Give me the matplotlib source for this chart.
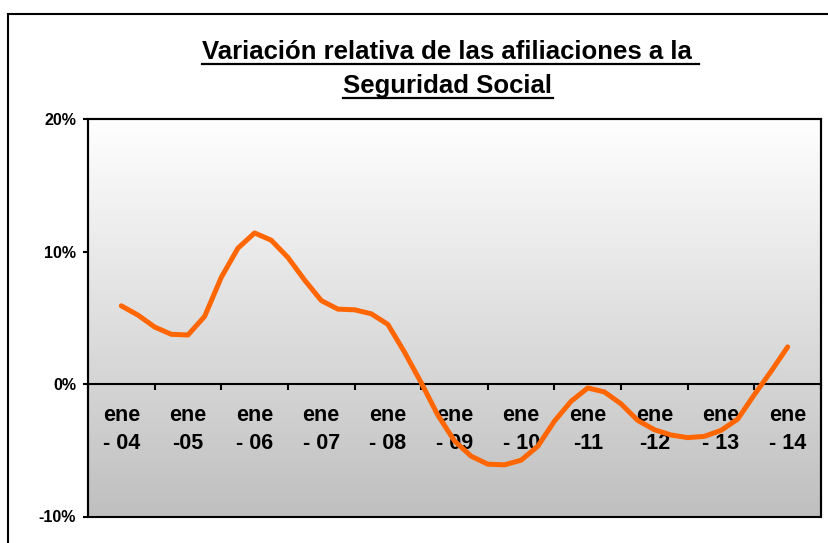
import numpy as np
import matplotlib
matplotlib.use('Agg')
import matplotlib.pyplot as plt
from matplotlib.lines import Line2D
from matplotlib.patches import Rectangle

plt.rcParams['font.family'] = ['Liberation Sans', 'DejaVu Sans']
plt.rcParams['font.weight'] = 'bold'

# etiquetas del eje x (enero de cada año)
etiquetas = ['ene\n- 04', 'ene\n-05', 'ene\n- 06', 'ene\n- 07', 'ene\n- 08', 'ene\n- 09',
             'ene\n- 10', 'ene\n-11', 'ene\n-12', 'ene\n- 13', 'ene\n- 14']

# variación relativa (%) trimestral, desde ene-04 hasta ene-14
variacion = [5.9, 5.2, 4.3, 3.75, 3.7, 5.1, 8.05, 10.25, 11.4, 10.85, 9.55,
             7.85, 6.3, 5.65, 5.6, 5.3, 4.5, 2.4, 0.1, -2.35, -4.3,
             -5.45, -6.05, -6.1, -5.75, -4.7, -2.8, -1.3, -0.3, -0.6, -1.5,
             -2.75, -3.45, -3.85, -4.05, -3.95, -3.5, -2.65, -0.8, 0.95, 2.8]

y_ticks = [-10, 0, 10, 20]
y_labels = ['-10%', '0%', '10%', '20%']

fig = plt.figure(figsize=(8.29, 5.43), dpi=100)
ax = fig.add_axes([88 / 829, 1 - 516.5 / 543, (821 - 88) / 829, (516.5 - 119) / 543])

# fondo degradado blanco -> gris
grad = np.linspace(0.75, 1.0, 256).reshape(-1, 1)
grad_rgb = np.dstack([grad, grad, grad])
ax.imshow(grad_rgb, extent=[-0.5, len(etiquetas) - 0.5, -10, 20], origin='lower',
          aspect='auto', zorder=0, interpolation='bilinear')

x = np.arange(len(variacion)) / 4.0
ax.plot(x, variacion, color='#FF6600', lw=3.6, solid_capstyle='round',
        solid_joinstyle='round', zorder=3)

ax.set_xlim(-0.5, len(etiquetas) - 0.5)
ax.set_ylim(-10, 20)

# eje x en el 0
ax.spines['bottom'].set_position(('data', 0))
ax.spines['bottom'].set_linewidth(1.5)
for s in ['top', 'right', 'left']:
    ax.spines[s].set_linewidth(1.5)
ax.add_patch(Rectangle((0, 0), 1, 1, transform=ax.transAxes, fill=False,
                       lw=1.5, edgecolor='black', zorder=5, clip_on=False))

ax.set_xticks(np.arange(len(etiquetas) + 1) - 0.5)
ax.set_xticklabels([])
ax.set_xticks(np.arange(len(etiquetas)), minor=True)
ax.set_xticklabels(etiquetas, minor=True, fontsize=15.5, fontweight='bold',
                   linespacing=1.45)
ax.tick_params(axis='x', which='major', direction='out', length=4, width=1.5)
ax.tick_params(axis='x', which='minor', length=0, pad=15)

ax.set_yticks(y_ticks)
ax.set_yticklabels(y_labels, fontsize=11.5, fontweight='bold')
ax.tick_params(axis='y', direction='out', length=3.6, width=1.5, pad=5)

# marco exterior del gráfico
fig.patches.append(Rectangle((8 / 829, -0.2), 1.2, 1 - 14 / 543 + 0.2,
                             transform=fig.transFigure, fill=False, lw=1.5,
                             edgecolor='black', clip_on=False))

t1 = fig.text(451 / 829, 1 - 59 / 543, 'Variación relativa de las afiliaciones a la ',
              ha='center', va='baseline', fontsize=18.5, fontweight='bold')
t2 = fig.text(448 / 829, 1 - 93 / 543, 'Seguridad Social',
              ha='center', va='baseline', fontsize=18.5, fontweight='bold')

# subrayado del título
fig.canvas.draw()
r = fig.canvas.get_renderer()
for t, yb in [(t1, 64), (t2, 98)]:
    bb = t.get_window_extent(r)
    fig.add_artist(Line2D([bb.x0 / 829, bb.x1 / 829], [1 - yb / 543, 1 - yb / 543],
                          transform=fig.transFigure, color='black', lw=1.6))

fig.savefig('out.png', dpi=100)
